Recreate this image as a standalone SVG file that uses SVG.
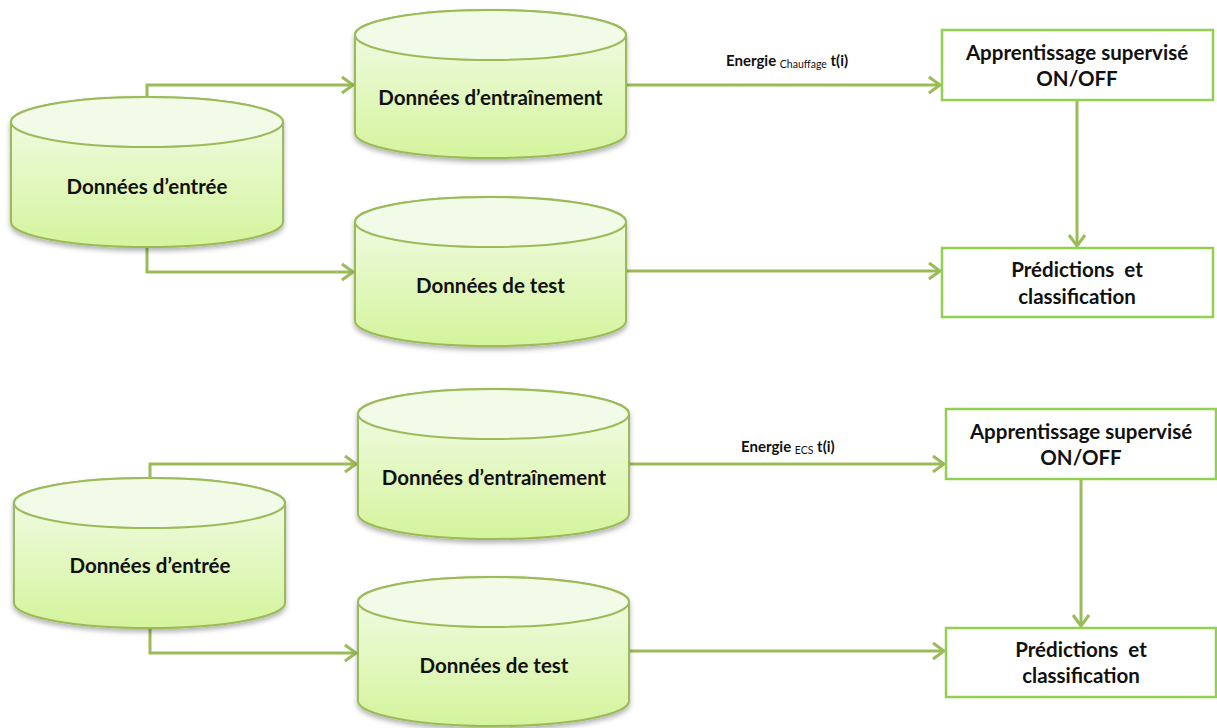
<svg xmlns="http://www.w3.org/2000/svg" width="1217" height="728" viewBox="0 0 1217 728">
<style>
.cyl{fill:url(#g);stroke:#9BBB59;stroke-width:2;filter:url(#sh)}
.cap{fill:#f2fbe8;stroke:#9BBB59;stroke-width:2}
.box{fill:#fff;stroke:#92D050;stroke-width:2.5}
.t{font-family:Lato,"Liberation Sans",sans-serif;font-weight:bold;font-size:20.5px;fill:#111;text-anchor:middle}
.lab{font-family:Lato,"Liberation Sans",sans-serif;font-weight:bold;font-size:15px;fill:#111}
.sub{font-size:10.5px;font-weight:normal}
.c{fill:none;stroke:#9BBB59;stroke-width:3;marker-end:url(#ah)}
</style>
<defs>
<linearGradient id="g" x1="0" y1="0" x2="0" y2="1">
<stop offset="0" stop-color="#f4fcec"/>
<stop offset="1" stop-color="#d4f49c"/>
</linearGradient>
<filter id="sh" x="-10%" y="-10%" width="120%" height="130%">
<feDropShadow dx="0" dy="3" stdDeviation="2.5" flood-color="#000" flood-opacity="0.3"/>
</filter>
<marker id="ah" markerUnits="userSpaceOnUse" markerWidth="20" markerHeight="20" viewBox="-14 -10 16 20" refX="0" refY="0" orient="auto">
<path d="M-11,-8 L0,0 L-11,8" fill="none" stroke="#9BBB59" stroke-width="3" stroke-linejoin="miter"/>
</marker>
</defs>
<rect width="1217" height="728" fill="#fff"/>

<g id="connectors">
<path class="c" d="M147 97 V85 H353"/>
<path class="c" d="M147 247 V272 H353"/>
<path class="c" d="M626 85 H940"/>
<path class="c" d="M626 271 H940"/>
<path class="c" d="M1077 100 V246"/>
<path class="c" d="M150 478 V464 H356"/>
<path class="c" d="M150 628 V653 H356"/>
<path class="c" d="M629 464 H944"/>
<path class="c" d="M629 651 H944"/>
<path class="c" d="M1081 479 V626"/>
<text class="lab" x="726" y="66">Energie <tspan class="sub" dy="2">Chauffage</tspan><tspan dy="-2"> t(i)</tspan></text>
<text class="lab" x="741" y="452">Energie <tspan class="sub" dy="2">ECS</tspan><tspan dy="-2"> t(i)</tspan></text>
</g>

<g id="input1">
<path class="cyl" d="M11 122 A136 25 0 0 1 283 122 V222 A136 25 0 0 1 11 222 Z"/>
<ellipse class="cap" cx="147" cy="122" rx="136" ry="25"/>
<text class="t" x="147" y="194">Données d’entrée</text>
</g>
<g id="train1">
<path class="cyl" d="M355 35 A135.5 25 0 0 1 626 35 V133 A135.5 25 0 0 1 355 133 Z"/>
<ellipse class="cap" cx="490.5" cy="35" rx="135.5" ry="25"/>
<text class="t" x="490.5" y="105">Données d’entraînement</text>
</g>
<g id="test1">
<path class="cyl" d="M355 222 A135.5 25 0 0 1 626 222 V321 A135.5 25 0 0 1 355 321 Z"/>
<ellipse class="cap" cx="490.5" cy="222" rx="135.5" ry="25"/>
<text class="t" x="490.5" y="293">Données de test</text>
</g>
<g id="learn1">
<rect class="box" x="942" y="30" width="271" height="70"/>
<text class="t" x="1077" y="60">Apprentissage supervisé</text>
<text class="t" x="1077" y="86">ON/OFF</text>
</g>
<g id="pred1">
<rect class="box" x="942" y="248" width="271" height="69"/>
<text class="t" x="1077" y="277" xml:space="preserve">Prédictions  et</text>
<text class="t" x="1077" y="304">classification</text>
</g>

<g id="input2">
<path class="cyl" d="M14 503 A135.5 25 0 0 1 285 503 V603 A135.5 25 0 0 1 14 603 Z"/>
<ellipse class="cap" cx="149.5" cy="503" rx="135.5" ry="25"/>
<text class="t" x="150" y="573">Données d’entrée</text>
</g>
<g id="train2">
<path class="cyl" d="M358 414 A135.5 25 0 0 1 629 414 V514 A135.5 25 0 0 1 358 514 Z"/>
<ellipse class="cap" cx="493.5" cy="414" rx="135.5" ry="25"/>
<text class="t" x="494" y="485">Données d’entraînement</text>
</g>
<g id="test2">
<path class="cyl" d="M358 602 A135.5 25 0 0 1 629 602 V701 A135.5 25 0 0 1 358 701 Z"/>
<ellipse class="cap" cx="493.5" cy="602" rx="135.5" ry="25"/>
<text class="t" x="494" y="673">Données de test</text>
</g>
<g id="learn2">
<rect class="box" x="946" y="409" width="270" height="70"/>
<text class="t" x="1081" y="439">Apprentissage supervisé</text>
<text class="t" x="1081" y="465">ON/OFF</text>
</g>
<g id="pred2">
<rect class="box" x="946" y="628" width="270" height="69"/>
<text class="t" x="1081" y="657" xml:space="preserve">Prédictions  et</text>
<text class="t" x="1081" y="683">classification</text>
</g>
</svg>
